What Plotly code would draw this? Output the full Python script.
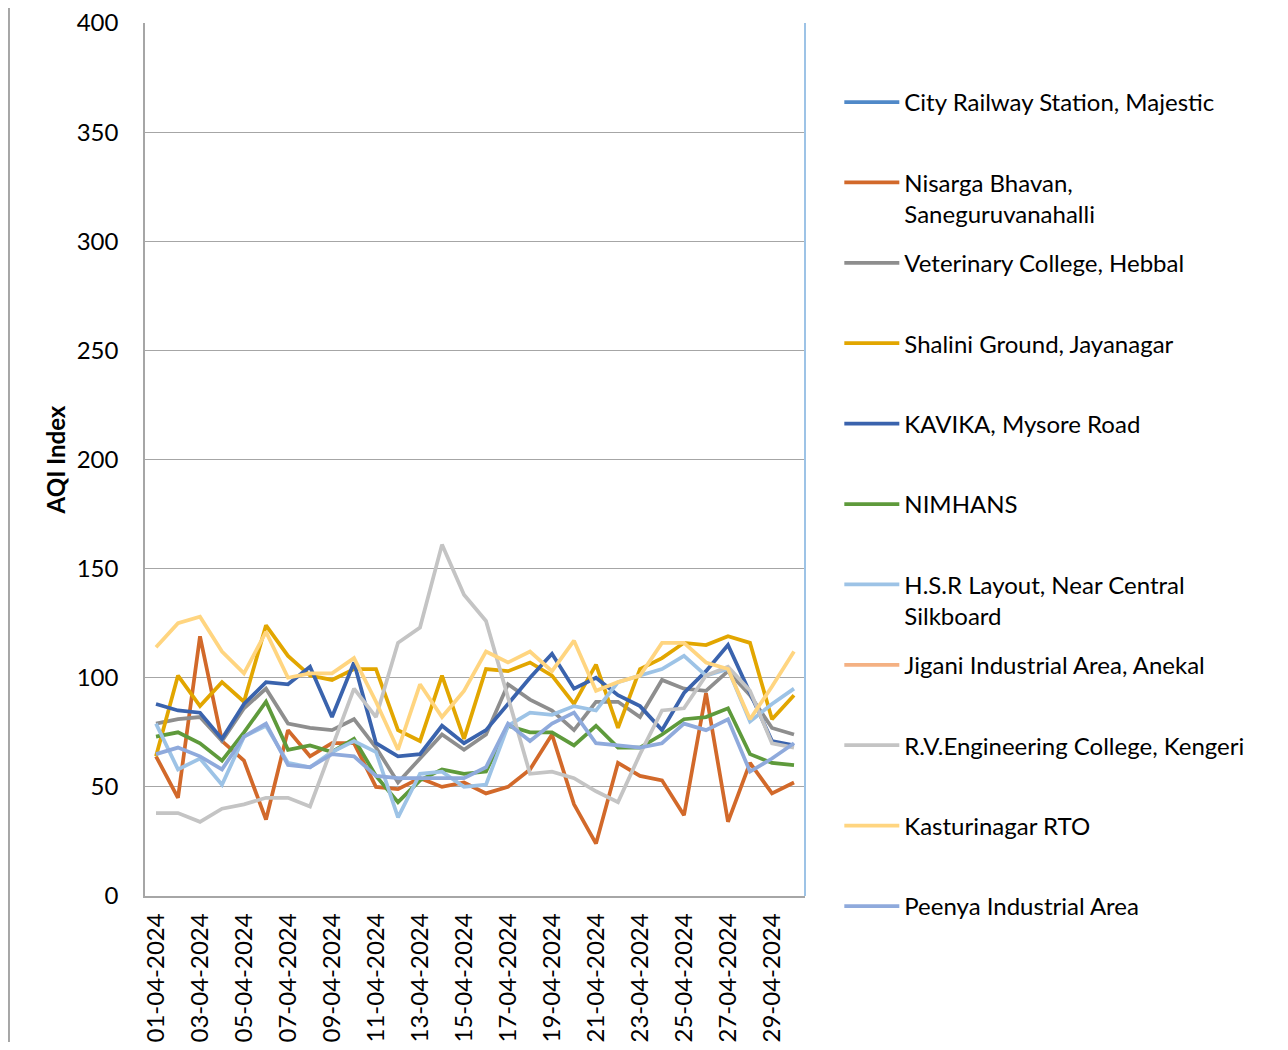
import plotly.graph_objects as go

dates = [f"{d:02d}-04-2024" for d in range(1, 31)]
tick_labels = dates[::2]

city_railway = [None] * 30
nisarga = [64, 45, 119, 71, 62, 35, 76, 64, 70, 70, 50, 49, 54, 50, 52, 47, 50, 58, 74, 42, 24, 61, 55, 53, 37, 93, 34, 61, 47, 52]
veterinary = [79, 81, 82, 71, 86, 95, 79, 77, 76, 81, 68, 52, 63, 74, 67, 74, 97, 90, 85, 76, 89, 89, 82, 99, 95, 94, 103, 92, 77, 74]
shalini = [64, 101, 87, 98, 89, 124, 110, 101, 99, 104, 104, 76, 71, 101, 72, 104, 103, 107, 101, 88, 106, 77, 104, 109, 116, 115, 119, 116, 81, 92]
kavika = [88, 85, 84, 72, 88, 98, 97, 105, 82, 107, 70, 64, 65, 78, 70, 76, 88, 100, 111, 95, 100, 92, 87, 76, 93, 103, 115, 93, 71, 69]
nimhans = [73, 75, 70, 62, 75, 89, 67, 69, 66, 72, 55, 43, 53, 58, 56, 57, 78, 75, 75, 69, 78, 68, 68, 74, 81, 82, 86, 65, 61, 60]
hsr = [79, 58, 63, 51, 73, 78, 61, 59, 66, 71, 66, 36, 56, 57, 50, 51, 78, 84, 83, 87, 85, 98, 101, 104, 110, 101, 104, 80, 88, 95]
jigani = [None] * 30
rv_college = [38, 38, 34, 40, 42, 45, 45, 41, 68, 95, 82, 116, 123, 161, 138, 126, 91, 56, 57, 54, 48, 43, 65, 85, 86, 101, 105, 94, 70, 68]
kasturinagar = [114, 125, 128, 112, 102, 121, 100, 102, 102, 109, 89, 67, 97, 82, 94, 112, 107, 112, 103, 117, 94, 98, 101, 116, 116, 107, 104, 81, 96, 112]
peenya = [65, 68, 64, 58, 73, 79, 60, 59, 65, 64, 55, 54, 54, 54, 54, 59, 79, 71, 79, 84, 70, 69, 68, 70, 79, 76, 81, 57, 63, 70]

series_names = [
    "City Railway Station, Majestic",
    "Nisarga Bhavan,<br>Saneguruvanahalli",
    "Veterinary College, Hebbal",
    "Shalini Ground, Jayanagar",
    "KAVIKA, Mysore Road",
    "NIMHANS",
    "H.S.R Layout, Near Central<br>Silkboard",
    "Jigani Industrial Area, Anekal",
    "R.V.Engineering College, Kengeri",
    "Kasturinagar RTO",
    "Peenya Industrial Area",
]
series_values = [city_railway, nisarga, veterinary, shalini, kavika, nimhans,
                 hsr, jigani, rv_college, kasturinagar, peenya]
colors = ["#5089C8", "#D2692A", "#8E8E8E", "#E2A600", "#3A63AD", "#5E9A3B",
          "#9DC3E6", "#F4B183", "#C4C4C4", "#FFD580", "#8FAADC"]

FONT = "Lato, 'Open Sans', sans-serif"

fig = go.Figure()
n = len(series_names)
for i, (name, vals, col) in enumerate(zip(series_names, series_values, colors)):
    label = name if ("<br>" in name or i == n - 1) else name + "<br> "
    fig.add_trace(go.Scatter(
        x=dates, y=vals, mode="lines", name=label,
        line=dict(color=col, width=3.75),
        legendgroup=f"g{i}",
    ))

fig.update_layout(
    width=1280, height=1034,
    margin=dict(l=137, r=483, t=15, b=146),
    paper_bgcolor="white", plot_bgcolor="white",
    font=dict(family=FONT, size=24, color="#000000"),
    showlegend=True,
    legend=dict(
        x=1.052, xanchor="left", y=0.9348, yanchor="top",
        traceorder="grouped", tracegroupgap=15, valign="top",
        font=dict(family=FONT, size=24, color="#000000"),
        itemwidth=55, bgcolor="rgba(0,0,0,0)", maxheight=1000,
    ),
    xaxis=dict(
        type="category", categoryorder="array", categoryarray=dates,
        range=[-0.5, 29.5], automargin=False,
        tickmode="array", tickvals=tick_labels, ticktext=tick_labels,
        tickangle=-90, ticks="", showgrid=False,
        showline=True, linecolor="#A6A6A6", linewidth=1.5,
        ticklabelstandoff=6, ticklabeloverflow="allow",
        tickfont=dict(family=FONT, size=24, color="#000000"),
    ),
    yaxis=dict(
        range=[0, 400], dtick=50, tick0=0, automargin=False,
        showgrid=True, gridcolor="#A6A6A6", gridwidth=1,
        zeroline=False, showline=True, linecolor="#A6A6A6", linewidth=1.5,
        ticks="", ticklabelstandoff=20, ticklabeloverflow="allow",
        tickfont=dict(family=FONT, size=24, color="#000000"),
        title=dict(text="<b>AQI Index</b>", font=dict(family=FONT, size=24, color="#000000"),
                   standoff=4),
    ),
    shapes=[
        dict(type="line", xref="paper", yref="paper", x0=1, x1=1, y0=0, y1=1,
             line=dict(color="#9DC3E6", width=2)),
        dict(type="line", xref="paper", yref="paper", x0=-0.2061, x1=-0.2061,
             y0=-0.2, y1=1.05, line=dict(color="#A6A6A6", width=2)),
        dict(type="line", xref="paper", yref="paper", x0=1.7227, x1=1.7227,
             y0=-0.2, y1=1.05, line=dict(color="#A6A6A6", width=2)),
    ],
)

fig.write_html("out.html")
